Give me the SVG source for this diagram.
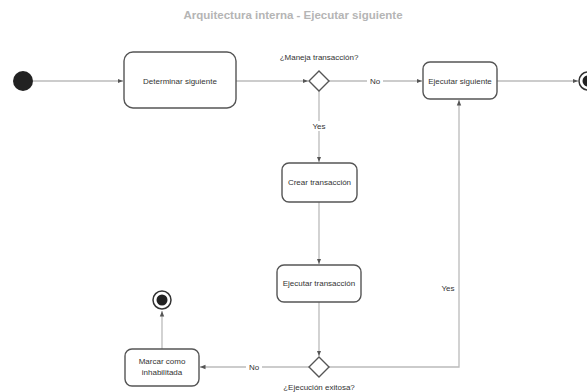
<svg xmlns="http://www.w3.org/2000/svg" width="587" height="392" viewBox="0 0 587 392">
<defs>
<marker id="arr" markerWidth="6" markerHeight="6" refX="5.5" refY="3" orient="auto" markerUnits="userSpaceOnUse">
<path d="M0,0.8 L5.5,3 L0,5.2 Z" fill="#555"/>
</marker>
</defs>
<style>
text{font-family:"Liberation Sans",Arial,sans-serif;fill:#333;font-size:8px}
.title{font-size:11.5px;font-weight:bold;fill:#b5b5b5}
.box{fill:#fff;stroke:#555;stroke-width:1.4}
.dia{fill:#fff;stroke:#555;stroke-width:1.4}
.edge{fill:none;stroke:#bbb;stroke-width:1.3;marker-end:url(#arr)}
.lbl{fill:#fff}
</style>
<rect width="587" height="392" fill="#fff"/>
<text class="title" x="293" y="19" text-anchor="middle">Arquitectura interna - Ejecutar siguiente</text>
<g id="connectors">
<path class="edge" d="M33,81 H123"/>
<path class="edge" d="M236,81 H308"/>
<path class="edge" d="M329,81 H422"/>
<path class="edge" d="M497,81 H578"/>
<path class="edge" d="M319,91 V162"/>
<path class="edge" d="M319,202 V264"/>
<path class="edge" d="M319,302 V356"/>
<path class="edge" d="M309,367 H200"/>
<path class="edge" d="M329,367 H459 V100"/>
<path class="edge" d="M162,349 V311"/>
<rect class="lbl" x="367" y="76" width="16" height="10"/>
<text x="375" y="84" text-anchor="middle">No</text>
<rect class="lbl" x="310" y="121" width="18" height="10"/>
<text x="319" y="129" text-anchor="middle">Yes</text>
<rect class="lbl" x="246" y="362" width="16" height="10"/>
<text x="254" y="370" text-anchor="middle">No</text>
<text x="448" y="291" text-anchor="middle">Yes</text>
</g>
<g id="start"><circle cx="23" cy="81" r="10" fill="#222"/></g>
<g id="determinar">
<rect class="box" x="124" y="52" width="112" height="56" rx="9"/>
<text x="180" y="84" text-anchor="middle">Determinar siguiente</text>
</g>
<g id="decision1">
<path class="dia" d="M319,71 L329,81 L319,91 L309,81 Z"/>
<text x="319" y="60" text-anchor="middle">¿Maneja transacción?</text>
</g>
<g id="ejecutar-siguiente">
<rect class="box" x="423" y="62" width="74" height="37" rx="7"/>
<text x="460" y="84" text-anchor="middle">Ejecutar siguiente</text>
</g>
<g id="end1">
<circle cx="588" cy="81" r="9" fill="#fff" stroke="#333" stroke-width="1.5"/>
<circle cx="588" cy="81" r="5.5" fill="#222"/>
</g>
<g id="crear">
<rect class="box" x="282" y="163" width="75" height="39" rx="7"/>
<text x="319.5" y="185" text-anchor="middle">Crear transacción</text>
</g>
<g id="ejecutar-transaccion">
<rect class="box" x="277" y="265" width="84" height="37" rx="7"/>
<text x="319" y="286" text-anchor="middle">Ejecutar transacción</text>
</g>
<g id="decision2">
<path class="dia" d="M319,357 L329,367 L319,377 L309,367 Z"/>
<text x="319" y="390" text-anchor="middle">¿Ejecución exitosa?</text>
</g>
<g id="marcar">
<rect class="box" x="125" y="349" width="74" height="37" rx="7"/>
<text x="162" y="364" text-anchor="middle">Marcar como</text>
<text x="162" y="375" text-anchor="middle">inhabilitada</text>
</g>
<g id="end2">
<circle cx="162" cy="300" r="9" fill="#fff" stroke="#333" stroke-width="1.5"/>
<circle cx="162" cy="300" r="5.5" fill="#222"/>
</g>
</svg>
